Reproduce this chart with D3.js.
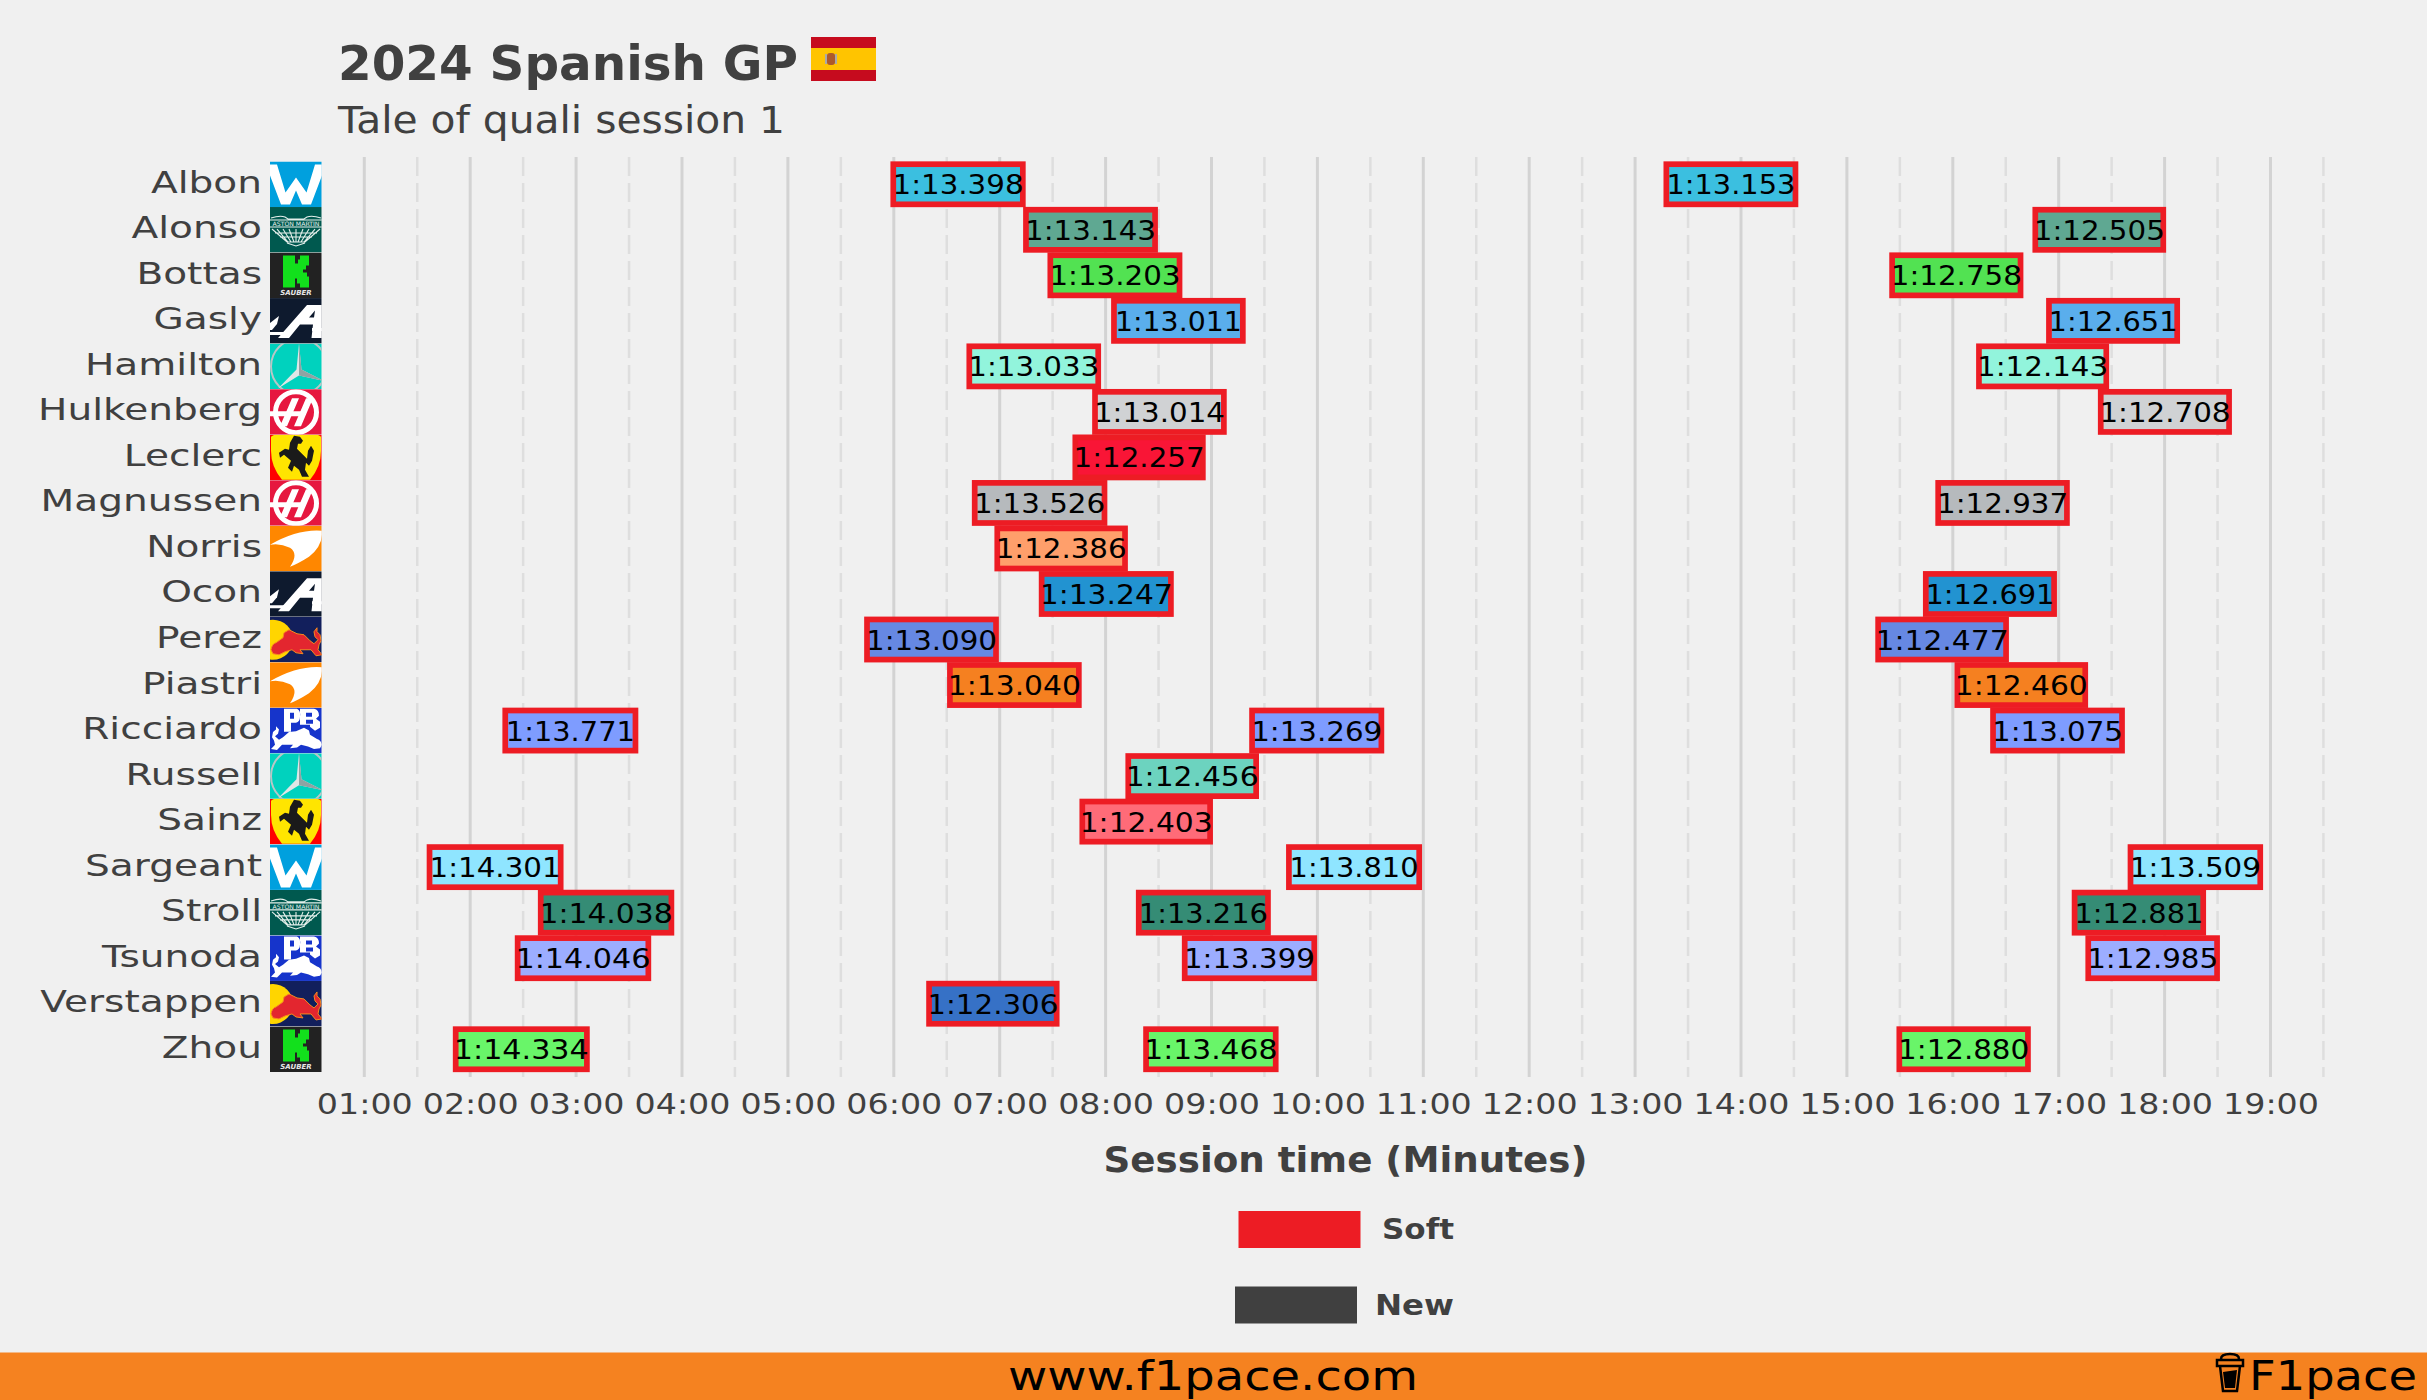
<!DOCTYPE html>
<html><head><meta charset="utf-8">
<script src="https://cdnjs.cloudflare.com/ajax/libs/d3/7.8.5/d3.min.js"></script>
<style>html,body{margin:0;padding:0;background:#f0f0f0}svg{display:block}text{font-family:"DejaVu Sans",sans-serif}</style>
</head><body><svg id="c" width="2427" height="1400"></svg>
<script>
const drivers=["Albon","Alonso","Bottas","Gasly","Hamilton","Hulkenberg","Leclerc","Magnussen","Norris","Ocon","Perez","Piastri","Ricciardo","Russell","Sainz","Sargeant","Stroll","Tsunoda","Verstappen","Zhou"];
const driverTeams=["williams","aston","kick","alpine","mercedes","haas","ferrari","haas","mclaren","alpine","redbull","mclaren","rb","mercedes","ferrari","williams","aston","rb","redbull","kick"];
const driverColors=["#3bbfe0","#5fa892","#52e252","#5aaeec","#92f4dc","#d0d2d4","#f91536","#b6babd","#ff9f6b","#2293d1","#6688e3","#f58020","#7e9cff","#6cd3bf","#ff6b78","#8fe5ff","#358c75","#9cadff","#3671c6","#69f569"];
const lapDrivers=["Albon","Albon","Alonso","Alonso","Bottas","Bottas","Gasly","Gasly","Hamilton","Hamilton","Hulkenberg","Hulkenberg","Leclerc","Magnussen","Magnussen","Norris","Ocon","Ocon","Perez","Perez","Piastri","Piastri","Ricciardo","Ricciardo","Ricciardo","Russell","Sainz","Sargeant","Sargeant","Sargeant","Stroll","Stroll","Stroll","Tsunoda","Tsunoda","Tsunoda","Verstappen","Zhou","Zhou","Zhou"];
const lapStartMinutes=[5.995,13.295,7.248,16.779,7.478,15.427,8.079,16.908,6.713,16.247,7.900,17.397,7.714,6.764,15.862,6.977,7.396,15.745,5.747,15.295,6.530,16.043,2.331,9.383,16.380,8.214,7.780,1.616,9.731,17.678,2.666,8.313,17.150,2.448,8.747,17.279,6.333,1.863,8.382,15.495];
const lapTimes=["1:13.398","1:13.153","1:13.143","1:12.505","1:13.203","1:12.758","1:13.011","1:12.651","1:13.033","1:12.143","1:13.014","1:12.708","1:12.257","1:13.526","1:12.937","1:12.386","1:13.247","1:12.691","1:13.090","1:12.477","1:13.040","1:12.460","1:13.771","1:13.269","1:13.075","1:12.456","1:12.403","1:14.301","1:13.810","1:13.509","1:14.038","1:13.216","1:12.881","1:14.046","1:13.399","1:12.985","1:12.306","1:14.334","1:13.468","1:12.880"];
const tickMinutes=[1,2,3,4,5,6,7,8,9,10,11,12,13,14,15,16,17,18,19];
const tickLabels=["01:00","02:00","03:00","04:00","05:00","06:00","07:00","08:00","09:00","10:00","11:00","12:00","13:00","14:00","15:00","16:00","17:00","18:00","19:00"];
const minorMinutes=[1.5,2.5,3.5,4.5,5.5,6.5,7.5,8.5,9.5,10.5,11.5,12.5,13.5,14.5,15.5,16.5,17.5,18.5,19.5];
const legendLabels=["Soft","New"];
const legendColors=["#ed1c24","#404040"];

const svg=d3.select("#c");
const INK="#404040";
svg.append("rect").attr("width",2427).attr("height",1400).attr("fill","#f0f0f0");
const x=d3.scaleLinear().domain([1,19]).range([364.3,2270.5]);
const y=d3.scaleBand().domain(drivers).range([161.5,1072]);
const secs=s=>{const[m,r]=s.split(":");return +m*60+ +r;};
const stretch=(sel,k)=>sel.each(function(){d3.select(this).attr("textLength",this.getComputedTextLength()*k).attr("lengthAdjust","spacingAndGlyphs");});
const fitted=(sel,w)=>sel.attr("textLength",w).attr("lengthAdjust","spacingAndGlyphs");

// grid
const gridTop=157,gridBottom=1077;
svg.append("g").selectAll("line").data(tickMinutes).join("line").attr("x1",x).attr("x2",x).attr("y1",gridTop).attr("y2",gridBottom).attr("stroke","#d3d3d3").attr("stroke-width",3);
svg.append("g").selectAll("line").data(minorMinutes).join("line").attr("x1",x).attr("x2",x).attr("y1",gridTop).attr("y2",gridBottom).attr("stroke","#dedede").attr("stroke-width",2.5).attr("stroke-dasharray","19 7");

// bars
const laps=lapDrivers.map((d,i)=>({d,start:lapStartMinutes[i],t:lapTimes[i],color:driverColors[drivers.indexOf(d)]}));
const barH=y.bandwidth()-5.4;
svg.append("g").selectAll("rect").data(laps).join("rect")
 .attr("x",d=>x(d.start)).attr("width",d=>x(d.start+secs(d.t)/60)-x(d.start))
 .attr("y",d=>y(d.d)+2.7).attr("height",barH)
 .attr("fill",d=>d.color).attr("stroke",legendColors[0]).attr("stroke-width",5.7);
svg.append("g").selectAll("text").data(laps).join("text")
 .attr("x",d=>x(d.start+secs(d.t)/120)).attr("y",d=>y(d.d)+y.bandwidth()/2+10)
 .attr("text-anchor","middle").attr("font-size",26).attr("fill","#000").text(d=>d.t)
 .each(function(d){const ones=(d.t.match(/1/g)||[]).length,fours=(d.t.match(/4/g)||[]).length;
   d3.select(this).attr("textLength",131-(ones-2)*2+fours*2).attr("lengthAdjust","spacingAndGlyphs");});

// axes
const ax=svg.append("g").attr("transform","translate(0,1077)").call(d3.axisBottom(x).tickValues(tickMinutes).tickFormat((d,i)=>tickLabels[i]).tickSize(0).tickPadding(24));
ax.select(".domain").remove();
ax.selectAll("text").attr("font-size",27.5).attr("fill",INK).attr("dy",0).attr("y",37).call(stretch,1.21);
const ay=svg.append("g").attr("transform","translate(262,0)").call(d3.axisLeft(y).tickSize(0).tickPadding(0));
ay.select(".domain").remove();
ay.selectAll("text").attr("font-size",31).attr("fill",INK).attr("x",0).attr("dy",0).attr("y",8.5).call(stretch,1.26);

// logos
const W=51.7,H=y.bandwidth();
const p=(g,d,f,extra={})=>{const e=g.append("path").attr("d",d).attr("fill",f);for(const k in extra)e.attr(k,extra[k]);return e;};
const bullPath="M1 33Q2 27 6 26L13 21L14 16L19 13L27 17L34 18L40 24L44 27L48 23L45 20L44 15L47 11L47 15L50 18L51 24L49 28L48 33L52 38L46 39L41 33L34 33L30 33L33 37L26 36L22 33L15 35L9 38L3 37Z";
const logos={
 williams(g){g.append("rect").attr("width",W).attr("height",H).attr("fill","#00a0de");
  p(g,"M0 3H7L15.5 31L26 16L36.5 31L45 3H52V14L41 43H32L26 29L20 43H11L0 14Z","#fff");},
 aston(g){g.append("rect").attr("width",W).attr("height",H).attr("fill","#00594f");
  p(g,"M1 11Q10 8 15 10L18 12H34L37 10Q42 8 51 11M0 13H52M0 20H52M2 22L17 35H35L50 22M7 22L18 35M13 22L21 35M19 22L24 35M26 22V35M33 22L28 35M39 22L31 35M45 22L34 35M5 26H47M10 30H42M17 36L26 39L35 36","none",{stroke:"#e4efeb","stroke-width":1.1});
  g.append("text").attr("x",26).attr("y",19).attr("text-anchor","middle").attr("font-size",6).attr("fill","#e4efeb").text("ASTON MARTIN").call(fitted,47);},
 kick(g){g.append("rect").attr("width",W).attr("height",H).attr("fill","#222");
  p(g,"M13 3H25V11H28V7H30V3H39V13H36V17H33V20H37V24H39V35H30V31H27V26H25V35H13Z","#12e01c");
  g.append("text").attr("x",26).attr("y",42.5).attr("text-anchor","middle").attr("font-size",7).attr("font-style","italic").attr("font-weight",700).attr("fill","#e8e8e8").text("SAUBER");},
 alpine(g){g.append("rect").attr("width",W).attr("height",H).attr("fill","#0e1a2e");
  p(g,"M37 7H52V40H41.5L43 26.5H30L19 40H8L37 7ZM39 19.5L44 19.5L45 12.5Z","#fff",{"fill-rule":"evenodd"});
  p(g,"M0 25L9 18L7 26L2 32H0Z","#fff");
  p(g,"M0 34H18L16 37H0ZM42 30H52V33H42Z","#fff");},
 mercedes(g){g.append("rect").attr("width",W).attr("height",H).attr("fill","#00d2be");
  g.append("circle").attr("cx",29).attr("cy",23).attr("r",28).attr("fill","none").attr("stroke","#b8c6c6").attr("stroke-width",2);
  p(g,"M29 0L31.5 26L53 37L29 32L8 45L26.5 26Z","#dfe6e6");
  p(g,"M29 0L29 32L53 37L31.5 26Z","#8fa3a3");},
 haas(g){g.append("rect").attr("width",W).attr("height",H).attr("fill","#e6173f");
  g.append("circle").attr("cx",26).attr("cy",23).attr("r",20.5).attr("fill","none").attr("stroke","#fff").attr("stroke-width",5);
  p(g,"M22 9H29L17 37H10ZM36 9H43L31 37H24Z","#fff");
  p(g,"M0 22H35L33 27H0Z","#fff");},
 ferrari(g){g.append("rect").attr("width",W).attr("height",H).attr("fill","#f00");
  p(g,"M1 2Q3 0 6 0H46Q49 0 51 2V16Q51 32 40 45H12Q1 32 1 16Z","#ffe500");
  p(g,"M24 1L30 2L33 6L31 9L28 9L27 14L32 19L37 24L38 16L41 11L44 16L42 26L39 31L36 28L35 35L39 42L32 42L29 35L24 31L22 37L18 33L21 26L14 20L10 23L9 18L15 14L19 15L20 8Z","#1a1a1a");},
 mclaren(g){g.append("rect").attr("width",W).attr("height",H).attr("fill","#ff8700");
  p(g,"M0 19Q28 3 52 5Q53 20 39 31Q28 38 20 41Q29 28 20 22Q10 17 0 19Z","#fff");},
 redbull(g){g.append("rect").attr("width",W).attr("height",H).attr("fill","#121f5c");
  g.append("circle").attr("cx",3).attr("cy",23).attr("r",20).attr("fill","#ffd500");
  p(g,bullPath,"#e3262f",{stroke:"#f58a1f","stroke-width":1});},
 rb(g){g.append("rect").attr("width",W).attr("height",H).attr("fill","#1634cb");
  p(g,"M14 1H27Q31 3 30 9Q30 14 26 15H21V24H14ZM20 5V11H24V5ZM30 1H44Q49 2 49 8L46 11L50 14V20L45 23L40 19V17H30ZM36 5V9H42V5ZM36 12V16H43V12Z","#fff",{"fill-rule":"evenodd"});
  g.append("g").attr("transform","translate(53,9) scale(-1,0.85)").call(s=>p(s,bullPath,"#fff"));}
};
const logoG=svg.append("g");
const defs=svg.append("defs");
defs.append("clipPath").attr("id","logoClip").append("rect").attr("width",W).attr("height",H);
drivers.forEach((d,i)=>{const g=logoG.append("g").attr("transform",`translate(270,${y(d)})`).attr("clip-path","url(#logoClip)");logos[driverTeams[i]](g);});

// titles
svg.append("text").attr("x",338).attr("y",80).attr("font-size",48).attr("font-weight",700).attr("fill",INK).text("2024 Spanish GP").call(fitted,460);
svg.append("text").attr("x",338).attr("y",133).attr("font-size",37).attr("fill",INK).text("Tale of quali session 1").call(fitted,447);
// flag
const fl=svg.append("g").attr("transform","translate(811,37)");
fl.append("rect").attr("width",65).attr("height",44).attr("fill","#c60b1e");
fl.append("rect").attr("y",11).attr("width",65).attr("height",22).attr("fill","#ffc400");
fl.append("rect").attr("x",16).attr("y",16).attr("width",8).attr("height",12).attr("rx",3).attr("fill","#ad5a2a");
fl.append("rect").attr("x",14).attr("y",17).attr("width",2).attr("height",10).attr("fill","#a9a9a9");
fl.append("rect").attr("x",24).attr("y",17).attr("width",2).attr("height",10).attr("fill","#a9a9a9");

// axis title + legend
svg.append("text").attr("x",1103.5).attr("y",1172).attr("font-size",36).attr("font-weight",700).attr("fill",INK).text("Session time (Minutes)").call(fitted,484);
const legend=[{x:1238.5,y:1211,tx:1382,ty:1239,tw:72},{x:1235,y:1286.5,tx:1375,ty:1315,tw:79}];
legendLabels.forEach((l,i)=>{const a=legend[i];
 svg.append("rect").attr("x",a.x).attr("y",a.y).attr("width",122).attr("height",37).attr("fill",legendColors[i]);
 svg.append("text").attr("x",a.tx).attr("y",a.ty).attr("font-size",29).attr("font-weight",700).attr("fill",INK).text(l).call(fitted,a.tw);});

// footer
svg.append("rect").attr("y",1352.5).attr("width",2427).attr("height",47.5).attr("fill","#f58220");
svg.append("text").attr("x",1008).attr("y",1389.5).attr("font-size",41).attr("fill","#000").text("www.f1pace.com").call(fitted,410);
svg.append("text").attr("x",2249).attr("y",1389.5).attr("font-size",41).attr("fill","#000").text("F1pace").call(fitted,168);
const cup=svg.append("g").attr("transform","translate(2215,1352)").attr("fill","none").attr("stroke","#000").attr("stroke-width",2.5);
cup.append("path").attr("d","M6 7Q6 2 15 2Q24 2 24 7M2 8H28V14H2ZM5 14L8 39H22L25 14");
cup.append("path").attr("d","M8 20L10 36H20L22 18Z").attr("fill","#000").attr("stroke","none");
</script></body></html>
